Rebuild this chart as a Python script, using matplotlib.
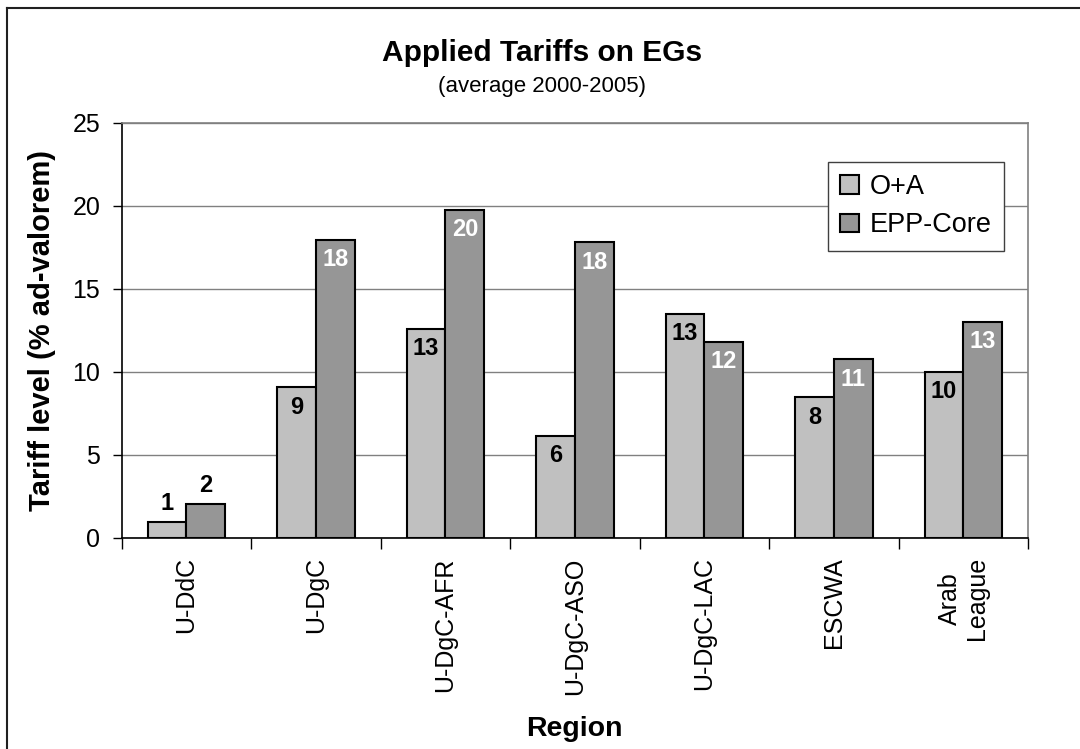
import numpy as np
import matplotlib
matplotlib.use("Agg")
import matplotlib.pyplot as plt
from matplotlib.lines import Line2D

plt.rcParams['font.family'] = ['Liberation Sans', 'DejaVu Sans']

regions = ["U-DdC", "U-DgC", "U-DgC-AFR", "U-DgC-ASO", "U-DgC-LAC", "ESCWA", "Arab\nLeague"]
oa = [0.95, 9.05, 12.6, 6.15, 13.5, 8.45, 10.0]
epp = [2.05, 17.95, 19.75, 17.8, 11.8, 10.75, 13.0]
oa_labels = ["1", "9", "13", "6", "13", "8", "10"]
epp_labels = ["2", "18", "20", "18", "12", "11", "13"]


def main():
    fig = plt.figure(figsize=(10.8, 7.49), dpi=100)
    ax = fig.add_axes([0.1127, 0.2821, 0.8393, 0.5541])

    x = np.arange(len(regions))
    w = 0.3
    ax.bar(x - w/2, oa, w, color='#C0C0C0', edgecolor='black', linewidth=1.5, label='O+A', zorder=3)
    ax.bar(x + w/2, epp, w, color='#969696', edgecolor='black', linewidth=1.5, label='EPP-Core', zorder=3)

    # value labels: inside the top, except for the tiny first group
    for i in range(len(regions)):
        if oa[i] < 4:
            for xi, v, t in [(x[i] - w/2, oa[i], oa_labels[i]), (x[i] + w/2, epp[i], epp_labels[i])]:
                ax.annotate(t, (xi, v), xytext=(0, 5), textcoords='offset points',
                            ha='center', va='bottom', fontsize=17, fontweight='bold', color='black')
        else:
            ax.annotate(oa_labels[i], (x[i] - w/2, oa[i]), xytext=(0, -6), textcoords='offset points',
                        ha='center', va='top', fontsize=17, fontweight='bold', color='black')
            ax.annotate(epp_labels[i], (x[i] + w/2, epp[i]), xytext=(0, -6), textcoords='offset points',
                        ha='center', va='top', fontsize=17, fontweight='bold', color='white')

    ax.set_xlim(-0.5, len(regions) - 0.5)
    ax.set_ylim(0, 25)
    ax.set_yticks(np.arange(0, 26, 5))
    ax.yaxis.grid(True, color='#808080', linewidth=1, zorder=0)
    ax.set_axisbelow(True)

    ax.set_xticks(x)
    ax.set_xticklabels(regions, rotation=90, fontsize=18, va='top', ha='center')
    ax.tick_params(axis='x', which='major', length=0, pad=14)
    ax.set_xticks(np.arange(-0.5, len(regions), 1), minor=True)
    ax.tick_params(axis='x', which='minor', length=8, width=1, direction='out')
    ax.tick_params(axis='y', labelsize=18, length=6.5, width=1, direction='out', pad=9)

    for s in ['top', 'right']:
        ax.spines[s].set_color('#808080')
        ax.spines[s].set_linewidth(1.2)
    for s in ['left', 'bottom']:
        ax.spines[s].set_color('black')
        ax.spines[s].set_linewidth(1.2)

    fig.text(0.039, 0.559, "Tariff level (% ad-valorem)", rotation=90, ha='center', va='center',
             fontsize=21, fontweight='bold')
    fig.text(0.532, 0.027, "Region", ha='center', va='center', fontsize=20.5, fontweight='bold')
    fig.text(0.502, 0.929, "Applied Tariffs on EGs", ha='center', va='center', fontsize=21.5, fontweight='bold')
    fig.text(0.502, 0.884, "(average 2000-2005)", ha='center', va='center', fontsize=16)

    leg = ax.legend(loc='upper right', bbox_to_anchor=(0.9735, 0.905), fontsize=19.5, frameon=True,
                    fancybox=False, borderpad=0.45, handlelength=0.7, handleheight=0.7,
                    handletextpad=0.4, labelspacing=0.45, borderaxespad=0)
    leg.get_frame().set_edgecolor('#404040')
    leg.get_frame().set_linewidth(1)
    leg.get_frame().set_alpha(1)

    # chart frame: only the top and left edges show in the picture
    fx, fy = 7 / 1080, 1 - 7.7 / 749
    fig.lines.append(Line2D([fx, fx], [0, fy], transform=fig.transFigure, color='#202020', linewidth=1.5))
    fig.lines.append(Line2D([fx, 1], [fy, fy], transform=fig.transFigure, color='#202020', linewidth=1.5))

    fig.savefig("out.png", dpi=100)


if __name__ == "__main__":
    main()
